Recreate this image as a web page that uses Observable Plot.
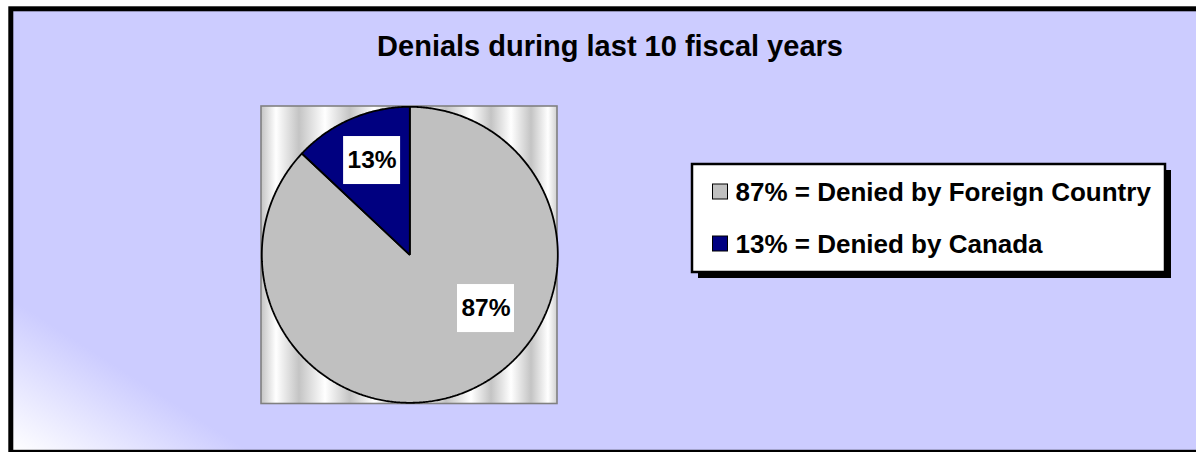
<!DOCTYPE html>
<html><head><meta charset="utf-8">
<script src="https://cdn.jsdelivr.net/npm/d3@7"></script>
<script src="https://cdn.jsdelivr.net/npm/@observablehq/plot@0.6"></script>
<style>html,body{margin:0;padding:0;background:#fff;overflow:hidden;} svg{display:block;}</style>
</head><body><div id="chart"></div>
<script>
// ---- data ----
const title = "Denials during last 10 fiscal years";
const categories = ["Denied by Foreign Country", "Denied by Canada"];
const values = [87, 13];
const colors = ["#c0c0c0", "#000080"];

// ---- layout (pixels) ----
const W = 1196, H = 452;
const cx = 409.3, cy = 254.3, R = 148;
const labelPlace = {"Denied by Foreign Country": {deg: 125.2, r: 0.63}, "Denied by Canada": {deg: 338.2, r: 0.686}};
const boxW = 57, boxH = 48;
const legX1 = 692, legX2 = 1165, legY1 = 164, legY2 = 272;
const rowBase = 200, rowGap = 52;

const rows = categories.map((c, i) => ({category: c, value: values[i], i}));
const arcs = d3.pie().sort(null).value(d => d.value)(rows);

// polygon points for each slice
const slicePts = arcs.flatMap(a => {
  const pts = [{category: a.data.category, x: cx, y: cy}];
  const n = Math.max(2, Math.ceil((a.endAngle - a.startAngle) / (Math.PI / 360)));
  for (let k = 0; k <= n; k++) {
    const t = a.startAngle + (a.endAngle - a.startAngle) * k / n;
    pts.push({category: a.data.category, x: cx + R * Math.sin(t), y: cy - R * Math.cos(t)});
  }
  pts.push({category: a.data.category, x: cx, y: cy});
  return pts;
});

const labels = rows.map(d => {
  const p = labelPlace[d.category];
  const t = p.deg * Math.PI / 180;
  return {...d, lx: cx + p.r * R * Math.sin(t), ly: cy - p.r * R * Math.cos(t)};
});

const font = "Liberation Sans, Arial, Helvetica, sans-serif";

const plot = Plot.plot({
  width: W, height: H,
  margin: 0,
  style: {fontFamily: font, background: "white"},
  x: {domain: [0, W], range: [0, W], axis: null},
  y: {domain: [0, H], range: [0, H], axis: null},
  color: {domain: categories, range: colors},
  marks: [
    // chart background + frame
    Plot.rect([0], {x1: 10.8, x2: 1212, y1: 8.8, y2: 452.3, fill: "url(#bgGrad)", stroke: "black", strokeWidth: 5}),
    // plot area with striped texture
    Plot.rect([0], {x1: 261, x2: 557, y1: 106, y2: 403.5, fill: "url(#stripes)", stroke: "#808080", strokeWidth: 1.6}),
    // pie slices
    Plot.line(slicePts, {x: "x", y: "y", z: "category", fill: "category", stroke: "black", strokeWidth: 1.8, curve: "linear-closed", strokeLinejoin: "miter"}),
    // label boxes
    Plot.rect(labels, {x1: d => d.lx - boxW / 2, x2: d => d.lx + boxW / 2, y1: d => d.ly - boxH / 2, y2: d => d.ly + boxH / 2, fill: "white"}),
    Plot.text(labels, {x: "lx", y: "ly", text: d => `${d.value}%`, fontSize: 24.5, fontWeight: "bold", fill: "black", lineAnchor: "middle"}),
    // title
    Plot.text([title], {x: 609.5, y: 55, text: d => d, fontSize: 29, fontWeight: "bold", fill: "black", lineAnchor: "bottom"}),
    // legend shadow + box
    Plot.rect([0], {x1: legX1 + 6, x2: legX2 + 6, y1: legY1 + 6, y2: legY2 + 6, fill: "black"}),
    Plot.rect([0], {x1: legX1, x2: legX2, y1: legY1, y2: legY2, fill: "white", stroke: "black", strokeWidth: 2.5}),
    // legend swatches
    Plot.rect(rows, {x1: 712.5, x2: 727.5, y1: d => rowBase - 16 + d.i * rowGap, y2: d => rowBase - 1 + d.i * rowGap, fill: "category", stroke: "black", strokeWidth: 1}),
    // legend text
    Plot.text(rows, {x: 735, y: d => rowBase + d.i * rowGap, text: d => `${d.value}% = ${d.category}`, textAnchor: "start", lineAnchor: "bottom", fontSize: 26, fontWeight: "bold", fill: "black"})
  ]
});

// gradient definitions
const svg = d3.select(plot);
const defs = svg.insert("defs", ":first-child");
const bg = defs.append("linearGradient").attr("id", "bgGrad").attr("gradientUnits", "userSpaceOnUse")
  .attr("x1", 13).attr("y1", 452).attr("x2", 82).attr("y2", 344);
bg.append("stop").attr("offset", 0).attr("stop-color", "#ffffff");
bg.append("stop").attr("offset", 1).attr("stop-color", "#ccccff");

const stripeStops = [[261, "#c4c4c4"], [276, "#ffffff"], [299, "#c4c4c4"], [325, "#ffffff"], [350, "#c4c4c4"], [374, "#ffffff"], [398, "#c4c4c4"], [422, "#ffffff"], [446, "#c4c4c4"], [471, "#ffffff"], [491, "#c4c4c4"], [511, "#ffffff"], [531, "#c4c4c4"], [548, "#ffffff"], [557, "#d0d0d0"]];
const st = defs.append("linearGradient").attr("id", "stripes").attr("gradientUnits", "userSpaceOnUse")
  .attr("x1", 261).attr("y1", 0).attr("x2", 557).attr("y2", 0);
stripeStops.forEach(([x, c]) => st.append("stop").attr("offset", (x - 261) / 296).attr("stop-color", c));

document.getElementById("chart").appendChild(plot);
</script>
</body></html>
